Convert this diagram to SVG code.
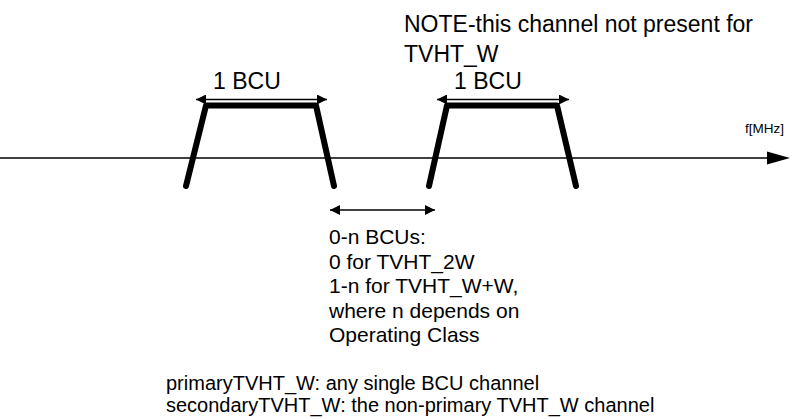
<svg xmlns="http://www.w3.org/2000/svg" width="792" height="419" viewBox="0 0 792 419">
<style>
text{font-family:"Liberation Sans",Arial,sans-serif;fill:#000}
.big{font-size:23px}
.mid{font-size:21px}
.leg{font-size:20px}
.sm{font-size:13.5px}
.thin{stroke:#000;stroke-width:1.3;fill:none}
.thick{stroke:#000;stroke-width:6;fill:none;stroke-linecap:round;stroke-linejoin:round}
</style>
<defs>
<marker id="ah" viewBox="0 0 10 10" refX="10" refY="5" markerWidth="10" markerHeight="10" markerUnits="userSpaceOnUse" orient="auto-start-reverse"><path d="M0,0 L10,5 L0,10 Z" fill="#000"/></marker>
</defs>
<rect width="792" height="419" fill="#fff"/>
<g id="connectors">
<line class="thin" x1="0" y1="158" x2="768" y2="158"/>
<path d="M767,151.5 L790,158 L767,164.5 Z" fill="#000"/>
<line class="thin" x1="196" y1="99.5" x2="327" y2="99.5" marker-start="url(#ah)" marker-end="url(#ah)"/>
<line class="thin" x1="437" y1="99.5" x2="569" y2="99.5" marker-start="url(#ah)" marker-end="url(#ah)"/>
<line class="thin" x1="330" y1="210" x2="435" y2="210" marker-start="url(#ah)" marker-end="url(#ah)"/>
</g>
<g id="channel1">
<path class="thick" d="M186,186 L206,105.5 L316,105.5 L334,186"/>
<text class="big" x="213" y="89">1 BCU</text>
</g>
<g id="channel2">
<path class="thick" d="M429,186 L447,105.5 L557,105.5 L576,186"/>
<text class="big" x="454" y="89">1 BCU</text>
</g>
<g id="note">
<text class="big" x="404" y="32">NOTE-this channel not present for</text>
<text class="big" x="404" y="62">TVHT_W</text>
</g>
<g id="axis-label"><text class="sm" x="745" y="133">f[MHz]</text></g>
<g id="gap-label">
<text class="mid" x="329" y="244">0-n BCUs:</text>
<text class="mid" x="329" y="268.5">0 for TVHT_2W</text>
<text class="mid" x="329" y="293">1-n for TVHT_W+W,</text>
<text class="mid" x="329" y="317.5">where n depends on</text>
<text class="mid" x="329" y="342">Operating Class</text>
</g>
<g id="legend">
<text class="leg" x="166" y="390">primaryTVHT_W: any single BCU channel</text>
<text class="leg" x="166" y="412">secondaryTVHT_W: the non-primary TVHT_W channel</text>
</g>
</svg>
